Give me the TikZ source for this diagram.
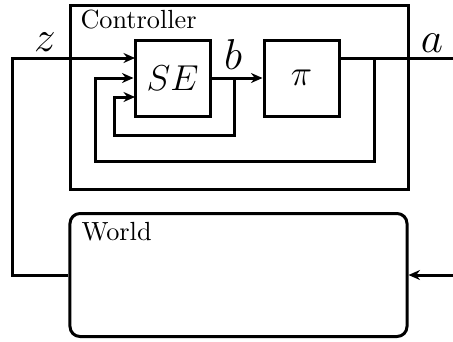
\documentclass[tikz,border=0pt]{standalone}
\usetikzlibrary{arrows.meta}
\begin{document}
\begin{tikzpicture}[x=0.4pt,y=-0.4pt,
  wire/.style={line width=1.2pt},
  arr/.style={wire,-{Stealth[length=4.6pt,width=4pt]}},
  blk/.style={draw,line width=1.2pt,minimum width=30pt,minimum height=30.4pt,inner sep=0pt,font=\fontsize{14}{16}\selectfont},
  lbl/.style={inner sep=0pt,font=\fontsize{16}{18}\selectfont},
  ttl/.style={inner sep=0pt,anchor=base west,font=\fontsize{10.5}{12}\selectfont}]
\useasboundingbox (0,0) rectangle (453,341);
% boxes
\node[draw,line width=1.2pt,minimum width=134.8pt,minimum height=73.6pt,inner sep=0pt] (ctrl) at (239.5,97) {};
\node[ttl] (ctrltxt) at (80,28) {Controller};
\node[blk] (SE) at (172.5,78) {$SE$};
\node[blk] (pi) at (301.5,78) {$\pi$};
\node[draw,line width=1.2pt,rounded corners=4pt,minimum width=134.8pt,minimum height=49.2pt,inner sep=0pt] (world) at (238.5,275) {};
\node[ttl] (worldtxt) at (81,240) {World};
% labels
\node[lbl] (zl) at (45,42) {$z$};
\node[lbl] (bl) at (233,54) {$b$};
\node[lbl] (al) at (432,43) {$a$};
% coordinates
\coordinate (zc) at (12,58);
\coordinate (aR) at (453,58);
\coordinate (wR) at (453,275);
\coordinate (l2a) at (374,58);
\coordinate (l2b) at (95,161);
\coordinate (l3a) at (234,78);
\coordinate (l3b) at (114,135);
\coordinate (s3) at (135,97);
\coordinate (s1) at (135,58);
% connectors
\draw[arr] (world.west) -| (zc) -- (s1);
\draw[wire] (pi.east |- aR) -- (aR);
\draw[arr] (SE.east) -- (pi.west);
\draw[arr] (l2a) |- (l2b) |- (SE.west);
\draw[arr] (l3a) |- (l3b) |- (s3);
\draw[arr] (wR) -- (world.east);
\end{tikzpicture}
\end{document}
